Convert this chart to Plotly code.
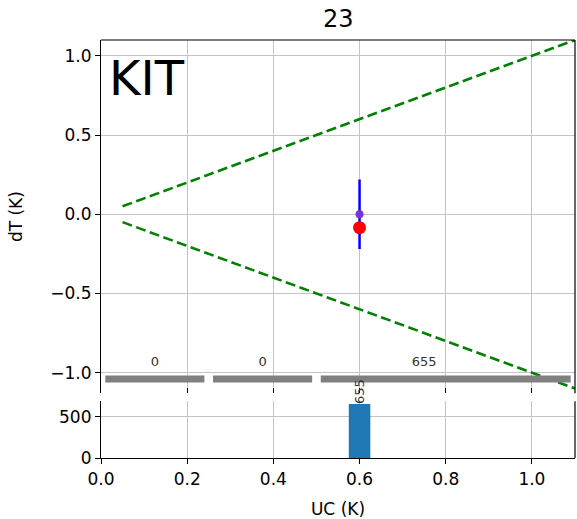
import plotly.graph_objects as go
from plotly.subplots import make_subplots

# ---- data ----
title_text = "23"
label_text = "KIT"
line_x = [0.05, 1.15]
upper_y = [0.05, 1.15]
lower_y = [-0.05, -1.15]
point_x = [0.6]
point_mean = [0.0]
point_err = [0.22]
point_median = [-0.085]
seg_start = [0.01, 0.26, 0.51]
seg_end = [0.24, 0.49, 1.09]
seg_level = -1.04
seg_label_level = -0.94
seg_label_x = [0.125, 0.375, 0.75]
seg_counts = [0, 0, 655]
hist_x = [0.6]
hist_counts = [655]
hist_width = 0.05
xticks = [0.0, 0.2, 0.4, 0.6, 0.8, 1.0]
yticks_top = [-1.0, -0.5, 0.0, 0.5, 1.0]
yticks_bot = [0, 500]

FONT = "DejaVu Sans"
TICKSIZE = 17
fig = make_subplots(rows=2, cols=1, shared_xaxes=False, vertical_spacing=0.0)

# green dashed envelope
for yy in (upper_y, lower_y):
    fig.add_trace(go.Scatter(x=line_x, y=yy, mode="lines",
                             line=dict(color="#008000", width=2.6, dash="10px,4.5px"),
                             showlegend=False, hoverinfo="skip"), row=1, col=1)

# gray segments
for s, e in zip(seg_start, seg_end):
    fig.add_trace(go.Scatter(x=[s, e], y=[seg_level, seg_level], mode="lines",
                             line=dict(color="#808080", width=7),
                             showlegend=False, hoverinfo="skip"), row=1, col=1)
fig.add_trace(go.Scatter(x=seg_label_x, y=[seg_label_level] * len(seg_label_x), mode="text",
                         text=[str(c) for c in seg_counts], textposition="middle center",
                         textfont=dict(family=FONT, size=13, color="#333333"),
                         showlegend=False, hoverinfo="skip"), row=1, col=1)

# error bar + mean point
fig.add_trace(go.Scatter(x=point_x, y=point_mean, mode="markers",
                         marker=dict(color="#7a33d6", size=8),
                         error_y=dict(type="data", array=point_err, color="#0000ff",
                                      thickness=2.5, width=0),
                         showlegend=False), row=1, col=1)
fig.add_trace(go.Scatter(x=point_x, y=point_median, mode="markers",
                         marker=dict(color="#ff0000", size=13),
                         showlegend=False), row=1, col=1)

# histogram
fig.add_trace(go.Bar(x=hist_x, y=hist_counts, width=hist_width,
                     marker=dict(color="#1f77b4", line=dict(width=0)),
                     showlegend=False), row=2, col=1)
for hx, hc in zip(hist_x, hist_counts):
    fig.add_annotation(x=hx, y=hc, xref="x2", yref="y2", text=str(hc),
                       textangle=-90, showarrow=False, yanchor="bottom",
                       xanchor="center", yshift=-2,
                       font=dict(family=FONT, size=13, color="#333333"))

grid = "#c4c4c4"
fig.update_xaxes(range=[0, 1.1], tickvals=xticks, showticklabels=False,
                 showgrid=True, gridcolor=grid, gridwidth=1, zeroline=False,
                 showline=False, ticks="inside", ticklen=5, tickcolor="black",
                 row=1, col=1)
fig.update_yaxes(range=[-1.13, 1.1], tickvals=yticks_top, tickformat=".1f",
                 showgrid=True, gridcolor=grid, gridwidth=1, zeroline=False,
                 showline=True, linecolor="black", linewidth=1.2, mirror=False,
                 ticks="outside", ticklen=5, tickcolor="black",
                 title=dict(text="dT (K)", font=dict(family=FONT, size=TICKSIZE, color="black"),
                            standoff=23),
                 tickfont=dict(family=FONT, size=TICKSIZE, color="black"),
                 row=1, col=1)
fig.update_xaxes(range=[0, 1.1], tickvals=xticks, tickformat=".1f",
                 showgrid=True, gridcolor=grid, gridwidth=1, zeroline=False,
                 showline=True, linecolor="black", linewidth=1.2, mirror=False,
                 ticks="outside", ticklen=5, tickcolor="black",
                 tickfont=dict(family=FONT, size=TICKSIZE, color="black"),
                 title=dict(text="UC (K)", font=dict(family=FONT, size=TICKSIZE, color="black"),
                            standoff=17),
                 row=2, col=1)
fig.update_yaxes(range=[0, 690], tickvals=yticks_bot,
                 showgrid=True, gridcolor=grid, gridwidth=1, zeroline=False,
                 showline=True, linecolor="black", linewidth=1.2,
                 ticks="outside", ticklen=5, tickcolor="black",
                 tickfont=dict(family=FONT, size=TICKSIZE, color="black"),
                 row=2, col=1)

fig.update_layout(
    xaxis=dict(domain=[0, 1]),
    xaxis2=dict(domain=[0, 1]),
    yaxis=dict(domain=[0.155, 1.0]),
    yaxis2=dict(domain=[0.0, 0.136]),
)

# spines: top axes top & right; bottom axes right
shapes = [
    dict(type="line", xref="paper", yref="paper", x0=0, x1=1, y0=1, y1=1,
         line=dict(color="black", width=1.2)),
    dict(type="line", xref="paper", yref="paper", x0=1, x1=1, y0=0.155, y1=1,
         line=dict(color="black", width=1.2)),
    dict(type="line", xref="paper", yref="paper", x0=1, x1=1, y0=0, y1=0.136,
         line=dict(color="black", width=1.2)),
]
fig.update_layout(shapes=shapes)

fig.add_annotation(x=0.5, y=1, xref="paper", yref="paper", yanchor="bottom",
                   yshift=5, text=title_text, showarrow=False,
                   font=dict(family=FONT, size=24, color="black"))
fig.add_annotation(x=0.012, y=0.982, xref="paper", yref="paper", xanchor="left",
                   yanchor="top", text=label_text, showarrow=False,
                   font=dict(family=FONT, size=48, color="black"))

fig.update_layout(width=577, height=519, autosize=False,
                  margin=dict(l=101, r=2, t=40, b=59),
                  paper_bgcolor="white", plot_bgcolor="white",
                  font=dict(family=FONT, color="black"),
                  showlegend=False)
fig.write_html("out.html", config={"displayModeBar": False},
               post_script="document.body.style.margin='0px';document.body.style.overflow='hidden';")
